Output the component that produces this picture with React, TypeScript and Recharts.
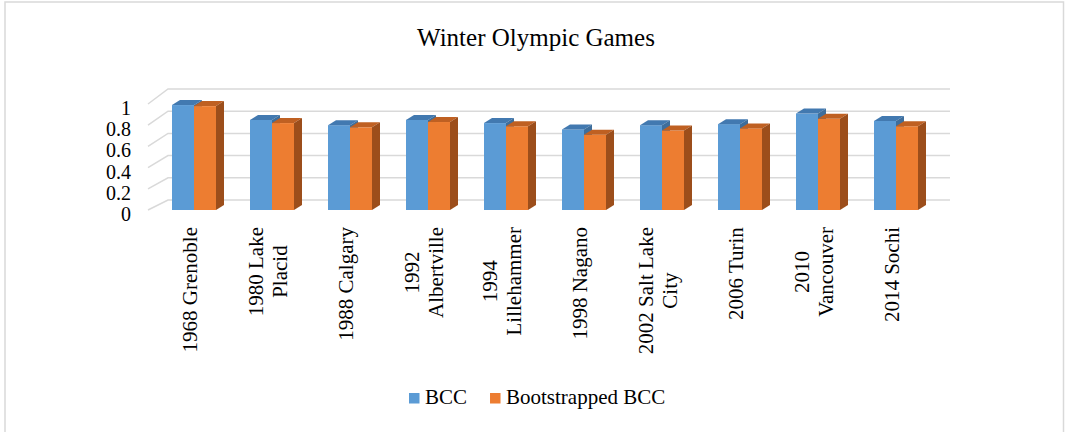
import React from 'react';
import { BarChart, Bar, XAxis, YAxis, CartesianGrid } from 'recharts';

// Winter games, BCC vs bootstrapped BCC
const categories = [
  '1968 Grenoble',
  '1980 Lake\nPlacid',
  '1988 Calgary',
  '1992\nAlbertville',
  '1994\nLillehammer',
  '1998 Nagano',
  '2002 Salt Lake\nCity',
  '2006 Turin',
  '2010\nVancouver',
  '2014 Sochi',
];
const bcc = [0.99, 0.85, 0.8, 0.85, 0.82, 0.76, 0.8, 0.81, 0.91, 0.84];
const bootstrappedBcc = [0.98, 0.82, 0.78, 0.83, 0.79, 0.71, 0.75, 0.77, 0.86, 0.79];
const yTicks = [0, 0.2, 0.4, 0.6, 0.8, 1];

const series = [
  { key: 'bcc', name: 'BCC', front: '#5B9BD5', top: '#4279B0', side: '#3E6E9C' },
  { key: 'boot', name: 'Bootstrapped BCC', front: '#ED7D31', top: '#BF6022', side: '#9C4E1B' },
];

const data = categories.map((name, i) => ({ name, bcc: bcc[i], boot: bootstrappedBcc[i] }));

const FONT = '"Liberation Serif", "Times New Roman", serif';
const W = 1065;
const H = 432;
const DX = 8;
const DY = 5;

let ctx: CanvasRenderingContext2D | null = null;
function textWidth(s: string, size: number) {
  if (!ctx) ctx = document.createElement('canvas').getContext('2d');
  if (!ctx) return s.length * size * 0.5;
  ctx.font = `${size}px "Liberation Serif"`;
  return ctx.measureText(s).width;
}

function Bar3D(props: any) {
  const { x, y, width, height, fill, top, side } = props;
  if (!height || height <= 0) return null;
  const r = x + width;
  const b = y + height;
  return (
    <g>
      <rect x={x} y={y} width={width} height={height} fill={fill} />
      <polygon points={`${x},${y} ${r},${y} ${r + DX},${y - DY} ${x + DX},${y - DY}`} fill={top} />
      <polygon points={`${r},${y} ${r + DX},${y - DY} ${r + DX},${b - DY} ${r},${b}`} fill={side} />
    </g>
  );
}

function GridLine(props: any) {
  const { x1, x2, y1, y, height } = props;
  const v = typeof y === 'number' && height ? (y + height - y1) / height : 0.5;
  const depth = 10 + 5 * v;
  return (
    <polyline
      points={`${x1 - 7},${y1} ${x1 + 13},${y1 - depth} ${x2 + 15},${y1 - depth}`}
      fill="none"
      stroke="#d9d9d9"
      strokeWidth={1.5}
    />
  );
}

function ValueTick(props: any) {
  const { x, y, payload } = props;
  return (
    <text x={x - 24} y={y + 4} textAnchor="end" dominantBaseline="central" fontSize={20} fontFamily={FONT} fill="#000">
      {payload.value}
    </text>
  );
}

function CategoryTick(props: any) {
  const { x, y, payload } = props;
  const lines = String(payload.value).split('\n');
  const maxW = Math.max(...lines.map((l) => textWidth(l, 21)));
  const cy = y + 17 + maxW / 2;
  const n = lines.length;
  return (
    <g>
      {lines.map((l, i) => {
        const bx = x + 3 + (i - (n - 1) / 2) * 24;
        return (
          <text
            key={i}
            x={bx}
            y={cy}
            transform={`rotate(-90, ${bx}, ${cy})`}
            textAnchor="middle"
            fontSize={21}
            fontFamily={FONT}
            fill="#000"
          >
            {l}
          </text>
        );
      })}
    </g>
  );
}

function LegendItems() {
  let cx = 409;
  return (
    <g>
      {series.map((s) => {
        const w = textWidth(s.name, 21);
        const x0 = cx;
        cx += 16 + w + 23;
        return (
          <g key={s.key}>
            <rect x={x0} y={393} width={10.5} height={10.5} fill={s.front} />
            <text x={x0 + 16} y={403.5} fontSize={21} fontFamily={FONT} fill="#000">
              {s.name}
            </text>
          </g>
        );
      })}
    </g>
  );
}

export default function App() {
  return (
    <div style={{ position: 'absolute', left: 0, top: 0, width: W, height: H, background: '#fff', overflow: 'hidden' }}>
      <BarChart
        width={W}
        height={H}
        data={data}
        barGap={0}
        margin={{ top: 104, right: 130, bottom: 72, left: 125 }}
      >
        <CartesianGrid vertical={false} horizontal={(p: any) => <GridLine {...p} />} />
        <XAxis
          dataKey="name"
          height={150}
          axisLine={false}
          tickLine={false}
          tickSize={0}
          tickMargin={0}
          interval={0}
          tick={(p: any) => <CategoryTick {...p} />}
        />
        <YAxis
          width={30}
          domain={[0, 1]}
          ticks={yTicks}
          interval={0}
          axisLine={false}
          tickLine={false}
          tickSize={0}
          tickMargin={0}
          tick={(p: any) => <ValueTick {...p} />}
        />
        {series.map((s) => (
          <Bar
            key={s.key}
            dataKey={s.key}
            name={s.name}
            fill={s.front}
            barSize={22}
            isAnimationActive={false}
            shape={(p: any) => <Bar3D {...p} top={s.top} side={s.side} />}
          />
        ))}
      </BarChart>
      <svg width={W} height={H} style={{ position: 'absolute', left: 0, top: 0, pointerEvents: 'none' }}>
        <rect x={5} y={2} width={1058.5} height={H + 20} fill="none" stroke="#d9d9d9" strokeWidth={1.5} />
        <text x={536} y={46} textAnchor="middle" fontSize={25} fontFamily={FONT} fill="#000">
          Winter Olympic Games
        </text>
        <LegendItems />
      </svg>
    </div>
  );
}
